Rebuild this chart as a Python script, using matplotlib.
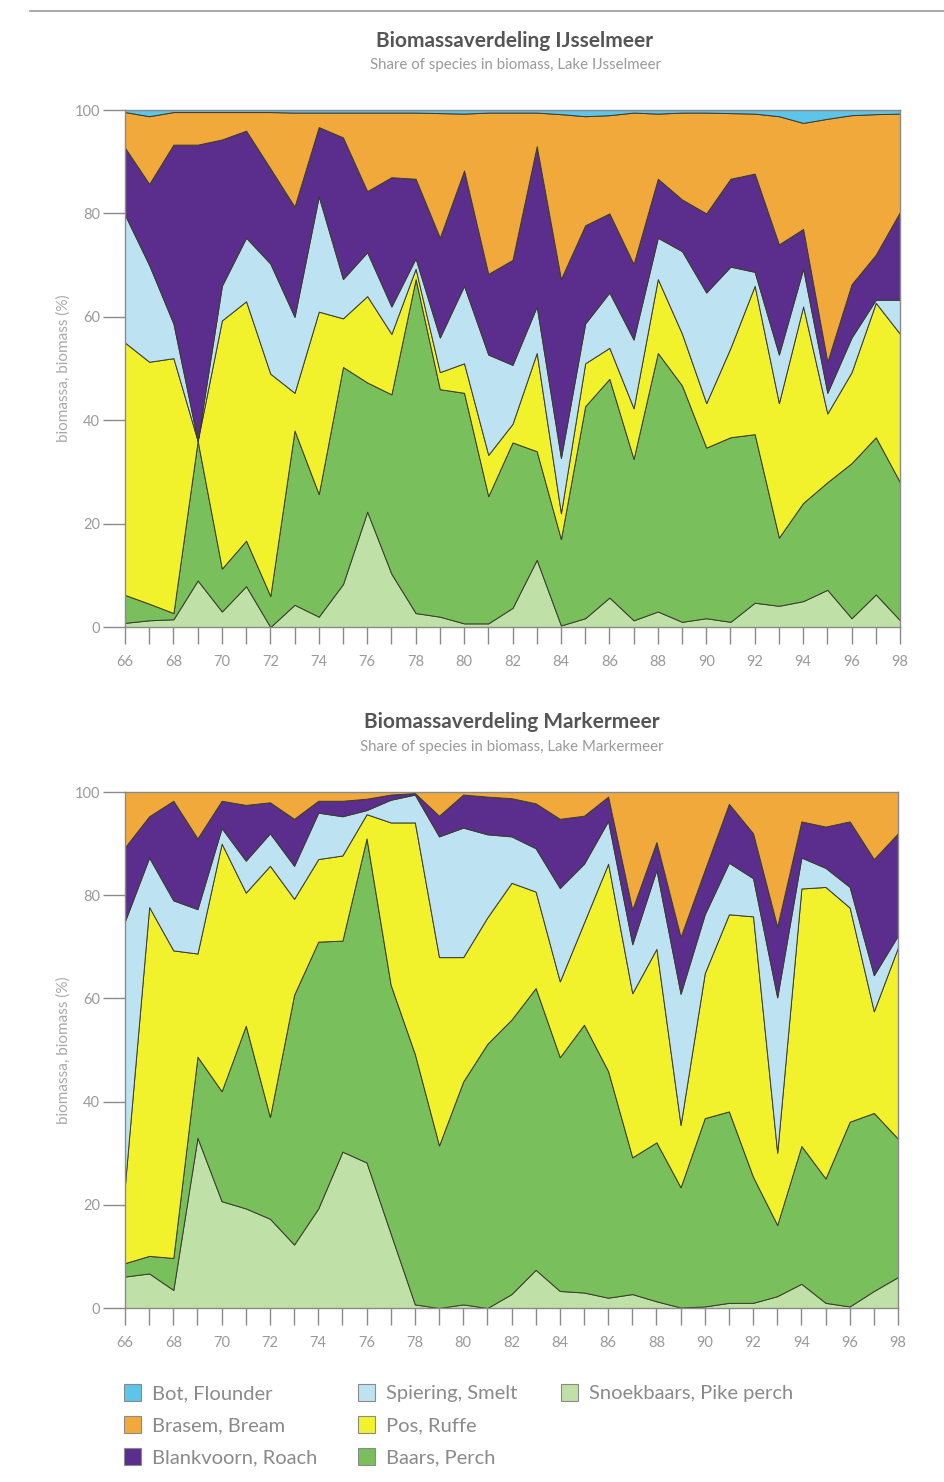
import numpy as np
import matplotlib.pyplot as plt
from matplotlib.patches import Patch
from matplotlib.lines import Line2D

plt.rcParams['font.family'] = ['Lato', 'DejaVu Sans']

years = list(range(66, 99))
xtick_labels = [str(y) if y % 2 == 0 else '' for y in years]
ytick_values = [0, 20, 40, 60, 80, 100]

species = ['Snoekbaars, Pike perch', 'Baars, Perch', 'Pos, Ruffe', 'Spiering, Smelt',
           'Blankvoorn, Roach', 'Brasem, Bream', 'Bot, Flounder']
colors = ['#bfe0a6', '#79bf5c', '#f2f22c', '#bde3f3', '#5b2e8e', '#f2a93b', '#5ec4ea']

# Upper edge of each band (cumulative share, %), years 66..98
# --- IJsselmeer ---
ij_snoekbaars = [0.8, 1.3, 1.5, 9, 3, 7.9, 0, 4.3, 2, 8.3, 22.3,
                 10.3, 2.7, 2, 0.7, 0.7, 3.7, 13, 0.3, 1.7, 5.7, 1.3,
                 3, 1, 1.7, 1, 4.7, 4.1, 5, 7.2, 1.7, 6.3, 1.3]
ij_baars = [6.2, 4.5, 2.7, 36, 11.3, 16.7, 6, 38, 25.7, 50.3, 47.3,
            45, 67.3, 46, 45.3, 25.3, 35.7, 34, 17, 42.7, 48, 32.5,
            53, 46.7, 34.7, 36.7, 37.3, 17.3, 24, 28, 31.7, 36.7, 28]
ij_pos = [55, 51.3, 52, 36, 59.3, 63, 49, 45.3, 61, 59.7, 64,
          56.7, 69.3, 49.3, 51, 33.3, 39.3, 53, 22, 51, 54, 42.3,
          67.3, 56.7, 43.3, 54, 66, 43.3, 62, 41.3, 49.3, 62.7, 56.7]
ij_spiering = [79.7, 70, 58.7, 36, 66, 75.3, 70.3, 60, 83.3, 67.3, 72.5,
               62, 71.3, 56, 66, 52.7, 50.7, 62, 32.7, 58.7, 64.7, 55.6,
               75.3, 72.7, 64.7, 69.7, 68.7, 52.7, 69.3, 45.3, 56, 63.3, 63.3]
ij_blankvoorn = [92.7, 85.7, 93.3, 93.3, 94.3, 96, 88.7, 81.3, 96.7, 94.7, 84.3,
                 87, 86.7, 75.3, 88.3, 68.3, 71, 93, 67.3, 77.7, 80, 70.2,
                 86.7, 82.7, 80, 86.7, 87.7, 74, 77, 51.3, 66.3, 72, 80.3]
ij_brasem = [99.6, 98.8, 99.6, 99.6, 99.6, 99.6, 99.6, 99.5, 99.5, 99.5, 99.5,
             99.5, 99.5, 99.4, 99.3, 99.5, 99.5, 99.5, 99.2, 98.8, 99, 99.5,
             99.3, 99.5, 99.5, 99.4, 99.3, 98.8, 97.5, 98.3, 99, 99.2, 99.3]
ij_bot = [100] * 33

# --- Markermeer ---
mk_snoekbaars = [6.1, 6.7, 3.5, 33, 20.7, 19.3, 17.3, 12.3, 19.3, 30.3, 28.2,
                 14.4, 0.7, 0, 0.7, 0, 2.7, 7.4, 3.3, 3, 2, 2.7,
                 1.3, 0.1, 0.3, 1, 1, 2.3, 4.7, 1, 0.3, 3.3, 6]
mk_baars = [8.7, 10.1, 9.7, 48.7, 42, 54.7, 37, 60.7, 71, 71.2, 91,
            62.6, 49.2, 31.5, 43.9, 51.2, 55.9, 62, 48.6, 54.9, 45.9, 29.2,
            32.1, 23.4, 36.8, 38.1, 25.4, 16.1, 31.4, 25.1, 36.1, 37.8, 32.8]
mk_pos = [24, 77.7, 69.3, 68.7, 90, 80.5, 85.7, 79.3, 87, 87.7, 95.7,
          94.1, 94.1, 68, 68, 75.7, 82.4, 80.7, 63.3, 74.7, 86.1, 61,
          69.6, 35.5, 64.9, 76.3, 75.9, 30.1, 81.3, 81.6, 77.6, 57.5, 69.9]
mk_spiering = [75, 87.3, 79, 77.3, 93, 86.7, 92, 85.7, 96, 95.3, 96.5,
               98.5, 99.5, 91.4, 93.1, 91.8, 91.4, 89.1, 81.4, 86.1, 94.4, 70.5,
               84.9, 60.9, 76.3, 86.3, 83.3, 60.2, 87.3, 85.3, 81.6, 64.5, 72.2]
mk_blankvoorn = [89.3, 95.3, 98.3, 91, 98.3, 97.5, 98, 94.8, 98.3, 98.3, 98.7,
                 99.5, 99.8, 95.4, 99.5, 99.1, 98.8, 97.8, 94.8, 95.4, 99.1, 77.2,
                 90.3, 71.9, 84.9, 97.7, 92, 73.9, 94.3, 93.3, 94.3, 87, 92]
mk_brasem = [100] * 33
mk_bot = [100] * 33

ij_edges = [ij_snoekbaars, ij_baars, ij_pos, ij_spiering, ij_blankvoorn, ij_brasem, ij_bot]
mk_edges = [mk_snoekbaars, mk_baars, mk_pos, mk_spiering, mk_blankvoorn, mk_brasem, mk_bot]

W, H = 945, 1482
fig = plt.figure(figsize=(W / 100, H / 100), dpi=100)
fig.patch.set_facecolor('white')

gray_txt = '#9a9a9a'
axis_col = '#8a8a8a'


def fx(px):
    return px / W


def fy(py):
    return 1 - py / H


def draw(ax, edges):
    cum = np.vstack([np.zeros(len(years))] + [np.array(e, dtype=float) for e in edges])
    shares = np.diff(cum, axis=0)
    ax.stackplot(years, shares, colors=colors, edgecolor='#3b3b2e', linewidth=0.7)
    ax.set_xlim(66, 98)
    ax.set_ylim(0, 100)
    ax.set_xticks(years)
    ax.set_xticklabels(xtick_labels)
    ax.set_yticks(ytick_values)
    ax.tick_params(axis='x', direction='out', length=12, width=1, color=axis_col,
                   labelcolor=gray_txt, labelsize=10.5, pad=8)
    ax.tick_params(axis='y', direction='out', length=16, width=1, color=axis_col,
                   labelcolor=gray_txt, labelsize=10.5, pad=2)
    for s in ax.spines.values():
        s.set_color(axis_col)
        s.set_linewidth(1)
    ax.set_ylabel('biomassa, biomass (%)', color='#a8a8a8', fontsize=11)
    ax.yaxis.set_label_coords(-0.07, 0.5)


ax1 = fig.add_axes([fx(125), fy(627), fx(775), 517 / H])
draw(ax1, ij_edges)
ax2 = fig.add_axes([fx(125), fy(1308), fx(773), 516 / H])
draw(ax2, mk_edges)

title_col = '#555555'
fig.text(fx(515), fy(41), 'Biomassaverdeling IJsselmeer', ha='center', va='center',
         fontsize=15, fontweight='bold', color=title_col)
fig.text(fx(515), fy(65), 'Share of species in biomass, Lake IJsselmeer', ha='center',
         va='center', fontsize=10.8, color=gray_txt)
fig.text(fx(512), fy(722), 'Biomassaverdeling Markermeer', ha='center', va='center',
         fontsize=15, fontweight='bold', color=title_col)
fig.text(fx(512), fy(747), 'Share of species in biomass, Lake Markermeer', ha='center',
         va='center', fontsize=10.8, color=gray_txt)

fig.add_artist(Line2D([fx(30), 1], [fy(11), fy(11)], color='#9a9a9a', lw=1.2))

# legend: three columns as in the reference
legend_columns = [[6, 5, 4], [3, 2, 1], [0]]
column_x = [124, 358, 561]
for col, x0 in zip(legend_columns, column_x):
    handles = [Patch(facecolor=colors[i], edgecolor='#8a8a8a', linewidth=0.8,
                     label=species[i]) for i in col]
    leg = fig.legend(handles=handles, ncol=1, loc='upper left',
                     bbox_to_anchor=(fx(x0), fy(1384)), frameon=False,
                     fontsize=14.5, handlelength=0.85, handleheight=0.9,
                     handletextpad=0.55, labelspacing=0.68, borderpad=0,
                     borderaxespad=0)
    for t in leg.get_texts():
        t.set_color('#8a8a8a')

fig.savefig('out.png', dpi=100)
